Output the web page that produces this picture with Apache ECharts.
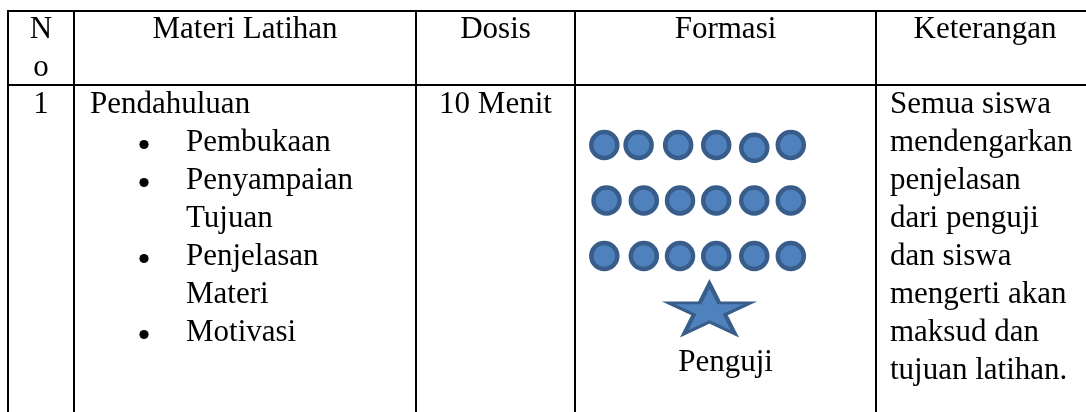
<!DOCTYPE html>
<html>
<head>
<meta charset="utf-8">
<script src="https://cdn.jsdelivr.net/npm/echarts@6/dist/echarts.min.js"></script>
<style>
html,body{margin:0;padding:0;background:#ffffff;}
#chart{width:1086px;height:412px;}
</style>
</head>
<body>
<div id="chart"></div>
<script>
// ---------- content (data) ----------
const headerNo = ['N', 'o'];
const headerLabels = ['Materi Latihan', 'Dosis', 'Formasi', 'Keterangan'];
const rowNo = '1';
const materiTitle = 'Pendahuluan';
const materiItems = [['Pembukaan'], ['Penyampaian', 'Tujuan'], ['Penjelasan', 'Materi'], ['Motivasi']];
const dosis = '10 Menit';
const keteranganLines = ['Semua siswa', 'mendengarkan', 'penjelasan', 'dari penguji', 'dan siswa', 'mengerti akan', 'maksud dan', 'tujuan latihan.'];
const formasiLabel = 'Penguji';
// formation: [column, row] of each student, and of the examiner
const siswaPos = [
  [0, 0], [0.92, 0], [1.98, 0], [3, 0], [4.02, 0.05], [5, 0],
  [0.06, 1], [1.06, 1], [2.03, 1], [3, 1], [4.02, 1], [5, 1],
  [0, 2], [1.06, 2], [2.03, 2], [3, 2], [4.02, 2], [5, 2]
];
const pengujiPos = [[2.82, 2.95]];

// ---------- layout ----------
const W = 1086, H = 412;
const FONT_SIZE = 31;
const FONT_FAMILY = '"Liberation Serif", "Times New Roman", serif';
const colX = [8, 74, 416, 575, 876];
const colRight = 1094;
const topY = 11, headY = 85;
const headBase = 40, bodyBase = 115, lineH = 38;
const MID = 10.5; // baseline -> middle offset

const chart = echarts.init(document.getElementById('chart'), null, {renderer: 'canvas', width: W, height: H});

const g = [];
function hLine(y, x1, x2) {
  g.push({type: 'line', shape: {x1: x1, y1: y, x2: x2, y2: y}, style: {stroke: '#000', lineWidth: 2}, silent: true});
}
function vLine(x, y1, y2) {
  g.push({type: 'line', shape: {x1: x, y1: y1, x2: x, y2: y2}, style: {stroke: '#000', lineWidth: 2}, silent: true});
}
function txt(t, x, baseline, align) {
  g.push({
    type: 'text', silent: true,
    style: {
      text: t, x: x, y: baseline - MID,
      fontFamily: FONT_FAMILY, fontSize: FONT_SIZE,
      fill: '#000', align: align || 'left', verticalAlign: 'middle'
    }
  });
}
function bullet(x, baseline) {
  g.push({type: 'circle', silent: true, shape: {cx: x, cy: baseline - 8.5, r: 4.6}, style: {fill: '#000'}});
}

// table rules
hLine(topY, colX[0] - 1, W);
hLine(headY, colX[0] - 1, W);
colX.forEach(function (x) { vLine(x, topY - 1, H); });

// header
const colCenters = [];
for (let i = 0; i < colX.length; i++) {
  const r = i + 1 < colX.length ? colX[i + 1] : colRight;
  colCenters.push((colX[i] + r) / 2);
}
headerNo.forEach(function (t, i) { txt(t, colCenters[0], headBase + i * lineH, 'center'); });
headerLabels.forEach(function (t, i) { txt(t, colCenters[i + 1], headBase, 'center'); });

// body: No
txt(rowNo, colCenters[0], bodyBase, 'center');
// body: Materi
txt(materiTitle, 90, bodyBase, 'left');
let line = 1;
materiItems.forEach(function (item) {
  bullet(144, bodyBase + line * lineH);
  item.forEach(function (t) {
    txt(t, 186, bodyBase + line * lineH, 'left');
    line++;
  });
});
// body: Dosis
txt(dosis, colCenters[2], bodyBase, 'center');
// body: Keterangan
keteranganLines.forEach(function (t, i) { txt(t, 890, bodyBase + i * lineH, 'left'); });
// body: Formasi label
txt(formasiLabel, colCenters[3], 373, 'center');

const starPath = 'path://M0,-1L0.2245,-0.309L0.951,-0.309L0.363,0.118L0.588,0.809L0,0.382L-0.588,0.809L-0.363,0.118L-0.951,-0.309L-0.2245,-0.309Z';

chart.setOption({
  animation: false,
  backgroundColor: '#ffffff',
  grid: {left: 585.65, top: 117.25, width: 223.8, height: 222, containLabel: false},
  xAxis: {type: 'value', min: -0.5, max: 5.5, show: false},
  yAxis: {type: 'value', min: -0.5, max: 3.5, inverse: true, show: false},
  series: [
    {
      name: 'Siswa', type: 'scatter', data: siswaPos, silent: true,
      symbol: 'circle', symbolSize: 26,
      itemStyle: {color: '#4F81BD', borderColor: '#385D8A', borderWidth: 4.5, opacity: 1}
    },
    {
      name: 'Penguji', type: 'scatter', data: pengujiPos, silent: true,
      symbol: starPath, symbolSize: [82, 50], symbolKeepAspect: false,
      itemStyle: {color: '#4F81BD', borderColor: '#385D8A', borderWidth: 3.5, opacity: 1}
    }
  ],
  graphic: g
});
</script>
</body>
</html>
